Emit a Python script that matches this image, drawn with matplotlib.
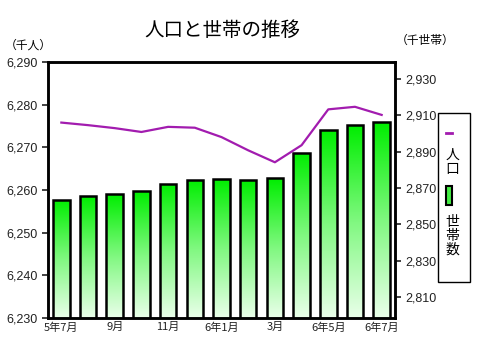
import numpy as np
import matplotlib
matplotlib.use("Agg")
import matplotlib.pyplot as plt
from matplotlib.patches import Rectangle
from matplotlib.lines import Line2D

plt.rcParams['font.family'] = ['Noto Sans CJK JP', 'DejaVu Sans']

months = ["5年7月", "8月", "9月", "10月", "11月", "12月", "6年1月",
          "2月", "3月", "4月", "6年5月", "6月", "6年7月"]
tick_labels = ["5年7月", "", "9月", "", "11月", "", "6年1月",
               "", "3月", "", "6年5月", "", "6年7月"]
jinko = [6275.8, 6275.2, 6274.5, 6273.6, 6274.8, 6274.6, 6272.4,
         6269.3, 6266.5, 6270.5, 6278.9, 6279.5, 6277.6]
setai = [2863.6, 2865.4, 2866.5, 2868.2, 2872.4, 2874.5, 2874.8,
         2874.3, 2875.4, 2889.4, 2901.7, 2904.6, 2906.3]
left_ticks = [6230, 6240, 6250, 6260, 6270, 6280, 6290]
right_ticks = [2810, 2830, 2850, 2870, 2890, 2910, 2930]

purple = "#a21caf"

fig = plt.figure(figsize=(4.79, 3.64), dpi=100)
ax = fig.add_axes([48/479, 1-318/364, (395-48)/479, (318-62)/364])
ax2 = ax.twinx()

x = np.arange(len(months))
ylo, yhi = 2798.5, 2939.3
bars = ax.bar(x, setai, width=0.62, bottom=0, color="none",
              edgecolor="black", linewidth=1.8, zorder=3)
grad = np.linspace(0, 1, 256).reshape(-1, 1)
cmap = matplotlib.colors.LinearSegmentedColormap.from_list(
    "g", ["#eaffea", "#80f880", "#00ee00"])
for b in bars:
    im = ax.imshow(grad, cmap=cmap, aspect="auto", origin="lower",
                   extent=[b.get_x(), b.get_x() + b.get_width(), ylo, b.get_height()],
                   zorder=2)
    im.set_clip_path(b)
ax.set_xlim(-0.5, 12.5)
ax.set_ylim(ylo, yhi)
ax.yaxis.tick_right()
ax.set_yticks(right_ticks)
ax.set_yticklabels([f"{v:,}" for v in right_ticks], family="Liberation Sans")
ax.set_xticks(x)
ax.set_xticklabels(tick_labels)
ax.tick_params(axis="x", length=0, labelsize=8, pad=3, colors="#222222")
ax.set_xticks(x[1::2], minor=True)
ax.tick_params(axis="x", which="minor", length=3, width=1.2, direction="out")
ax.tick_params(axis="y", length=4, width=1.2, labelsize=9, colors="#222222")

ax2.plot(x, jinko, color=purple, linewidth=1.6, zorder=4)
ax2.set_ylim(6230, 6290)
ax2.yaxis.tick_left()
ax2.set_yticks(left_ticks)
ax2.set_yticklabels([f"{v:,}" for v in left_ticks], family="Liberation Sans")
ax2.tick_params(axis="y", length=4, width=1.2, labelsize=9, colors="#222222")
ax2.set_xlim(-0.5, 12.5)

for a in (ax, ax2):
    for s in a.spines.values():
        s.set_linewidth(1.8)
ax.set_ylim(ylo, yhi)

fig.text(222/479, 1-30/364, "人口と世帯の推移", fontsize=14, ha="center", va="center")
fig.text(28/479, 1-45/364, "（千人）", fontsize=8.5, ha="center", va="center")
fig.text(425/479, 1-40/364, "（千世帯）", fontsize=8.5, ha="center", va="center")

# 凡例
fig.patches.append(Rectangle((438/479, 1-282/364), 32/479, 169/364,
                             transform=fig.transFigure, fill=False,
                             edgecolor="black", linewidth=1.0))
fig.lines.append(Line2D([446/479, 452/479], [1-133/364, 1-133/364],
                        transform=fig.transFigure, color=purple, linewidth=2))
fig.text(452/479, 1-162/364, "人\n口", fontsize=10, ha="center", va="center",
         linespacing=1.0)
fig.patches.append(Rectangle((446/479, 1-205/364), 6/479, 19/364,
                             transform=fig.transFigure, facecolor="#44ee44",
                             edgecolor="black", linewidth=1.5))
fig.text(452/479, 1-236/364, "世\n帯\n数", fontsize=10, ha="center", va="center",
         linespacing=1.0)

fig.savefig("out.png", dpi=100)
